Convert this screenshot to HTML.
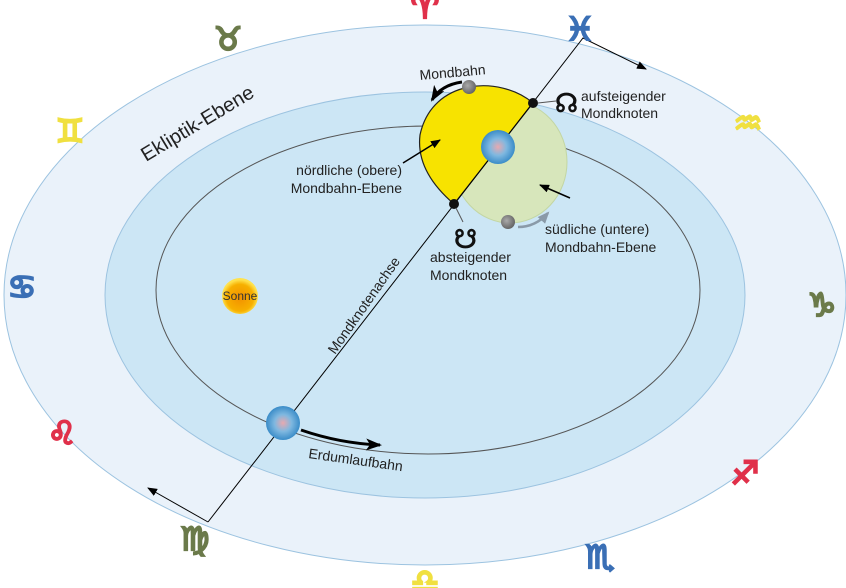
<!DOCTYPE html>
<html><head><meta charset="utf-8"><style>
html,body{margin:0;padding:0;background:#fff}
svg{display:block;font-family:"Liberation Sans",sans-serif}
.z{font-family:"DejaVu Sans",sans-serif;font-size:32px;font-weight:bold;stroke-width:2.2}
</style></head><body>
<svg width="846" height="588" viewBox="0 0 846 588" xmlns="http://www.w3.org/2000/svg">
<defs>
<radialGradient id="sun" cx="50%" cy="55%" r="50%"><stop offset="0" stop-color="#f29100"/><stop offset="0.75" stop-color="#f7b000"/><stop offset="1" stop-color="#ffe24d"/></radialGradient>
<radialGradient id="earth" cx="50%" cy="50%" r="50%"><stop offset="0" stop-color="#e8a9b0"/><stop offset="0.5" stop-color="#7fb8e0"/><stop offset="1" stop-color="#3a8cc8"/></radialGradient>
<radialGradient id="moon" cx="40%" cy="40%" r="60%"><stop offset="0" stop-color="#aaa"/><stop offset="1" stop-color="#666"/></radialGradient>
<marker id="a" markerWidth="10" markerHeight="8" refX="9" refY="4" orient="auto" markerUnits="userSpaceOnUse"><path d="M0,0 L10,4 L0,8 Z" fill="#000"/></marker>
<marker id="ab" markerWidth="16" markerHeight="12" refX="14" refY="6" orient="auto" markerUnits="userSpaceOnUse"><path d="M0,0 L16,6 L0,12 L4,6 Z" fill="#000"/></marker>
<marker id="ag" markerWidth="12" markerHeight="10" refX="10" refY="5" orient="auto" markerUnits="userSpaceOnUse"><path d="M0,0 L12,5 L0,10 Z" fill="#8a9aa8"/></marker>
</defs>
<ellipse cx="425" cy="295" rx="421" ry="270" fill="#eaf2fa" stroke="#9cc3e0" stroke-width="1"/>
<ellipse cx="425" cy="295" rx="320" ry="203" fill="#cce6f5" stroke="#9cc3e0" stroke-width="1"/>
<ellipse cx="428" cy="290" rx="272" ry="164" fill="none" stroke="#555" stroke-width="1"/>
<ellipse cx="510" cy="162" rx="57" ry="61" fill="#d7e6bb" stroke="#c3d6a3" stroke-width="1"/>
<path d="M533,103 C500,75 432,78 420,135 C416,168 440,192 454,204 Z" fill="#f7e300" stroke="#222" stroke-width="1.2"/>
<polyline points="208,522 583,38 646,69" fill="none" stroke="#000" stroke-width="1" marker-end="url(#a)"/>
<line x1="208" y1="522" x2="148" y2="488" stroke="#000" marker-end="url(#a)"/>
<circle cx="533" cy="103" r="5" fill="#111"/>
<circle cx="454" cy="204" r="5" fill="#111"/>
<line x1="538" y1="103" x2="556" y2="101" stroke="#555"/>
<line x1="456" y1="208" x2="463" y2="222" stroke="#555"/>
<circle cx="240" cy="296" r="18" fill="url(#sun)"/>
<text x="240" y="300" font-size="12" text-anchor="middle" fill="#333">Sonne</text>
<circle cx="498" cy="147" r="17" fill="url(#earth)"/>
<circle cx="283" cy="423" r="17" fill="url(#earth)"/>
<circle cx="469" cy="87" r="7" fill="url(#moon)"/>
<circle cx="508" cy="222" r="7" fill="url(#moon)"/>
<path d="M462,82 C448,84 438,90 432,100" fill="none" stroke="#000" stroke-width="3" marker-end="url(#ab)"/>
<path d="M518,227 C530,227 540,222 548,213" fill="none" stroke="#8a9aa8" stroke-width="2.5" marker-end="url(#ag)"/>
<path d="M301,430 C330,440 355,444 380,445" fill="none" stroke="#000" stroke-width="3" marker-end="url(#ab)"/>
<line x1="403" y1="163" x2="440" y2="140" stroke="#000" stroke-width="1.5" marker-end="url(#a)"/>
<line x1="570" y1="198" x2="540" y2="185" stroke="#000" stroke-width="1.5" marker-end="url(#a)"/>
<g font-size="14" fill="#222">
<text x="420" y="80" transform="rotate(-5 420 80)">Mondbahn</text>
<text x="581" y="101">aufsteigender</text>
<text x="581" y="118">Mondknoten</text>
<text x="402" y="175" text-anchor="end">nördliche (obere)</text>
<text x="402" y="193" text-anchor="end">Mondbahn-Ebene</text>
<text x="545" y="234">südliche (untere)</text>
<text x="545" y="252">Mondbahn-Ebene</text>
<text x="430" y="262">absteigender</text>
<text x="430" y="280">Mondknoten</text>
<text x="308" y="458" transform="rotate(8 308 458)">Erdumlaufbahn</text>
<text x="335" y="355" transform="rotate(-55 335 355)">Mondknotenachse</text>
</g>
<text x="146" y="162" font-size="20" fill="#222" transform="rotate(-31 146 162)">Ekliptik-Ebene</text>
<text x="555" y="112" font-size="26" font-family="DejaVu Sans" fill="#111" stroke="#111" stroke-width="0.8">☊</text>
<text x="454" y="248" font-size="26" font-family="DejaVu Sans" fill="#111" stroke="#111" stroke-width="0.8">☋</text>
<g class="z">
<text x="425" y="18" fill="#e0304a" stroke="#e0304a" text-anchor="middle">♈</text>
<text x="580" y="40" fill="#3a6fb5" stroke="#3a6fb5" text-anchor="middle">♓</text>
<text x="228" y="50" fill="#6b7a4a" stroke="#6b7a4a" text-anchor="middle">♉</text>
<text x="70" y="142" fill="#f0e040" stroke="#f0e040" text-anchor="middle">♊</text>
<text x="748" y="134" fill="#f0e040" stroke="#f0e040" text-anchor="middle">♒</text>
<text x="22" y="298" fill="#3a6fb5" stroke="#3a6fb5" text-anchor="middle">♋</text>
<text x="822" y="316" fill="#6b7a4a" stroke="#6b7a4a" text-anchor="middle">♑</text>
<text x="62" y="444" fill="#e0304a" stroke="#e0304a" text-anchor="middle">♌</text>
<text x="745" y="484" fill="#e0304a" stroke="#e0304a" text-anchor="middle">♐</text>
<text x="195" y="550" fill="#6b7a4a" stroke="#6b7a4a" text-anchor="middle">♍</text>
<text x="600" y="568" fill="#3a6fb5" stroke="#3a6fb5" text-anchor="middle">♏</text>
<text x="425" y="592" fill="#f0e040" stroke="#f0e040" text-anchor="middle">♎</text>
</g>
</svg>
</body></html>
